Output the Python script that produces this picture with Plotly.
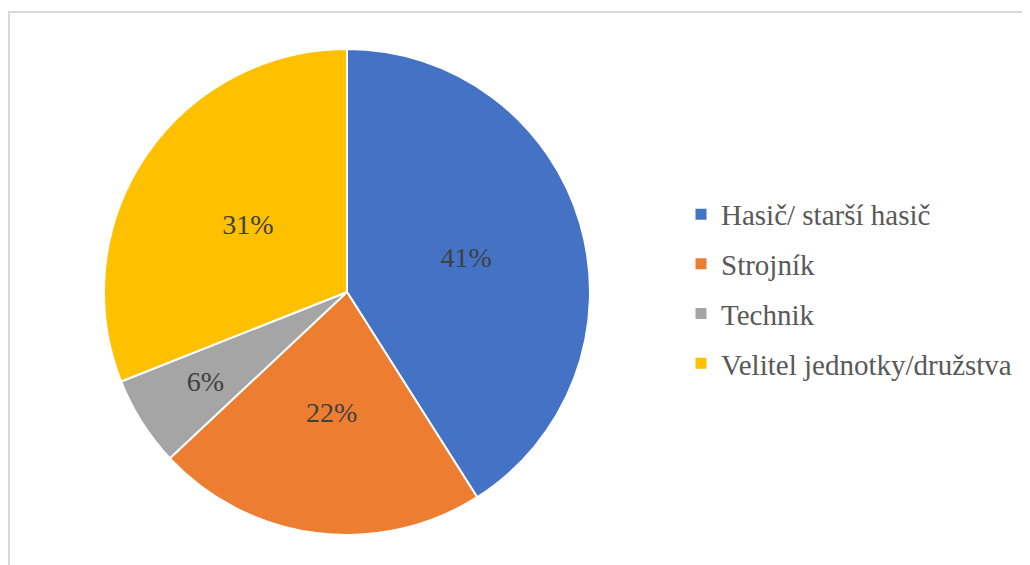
import plotly.graph_objects as go

labels = ["Hasič/ starší hasič", "Strojník", "Technik", "Velitel jednotky/družstva"]
values = [41, 22, 6, 31]
colors = ["#4472C4", "#ED7D31", "#A5A5A5", "#FFC000"]

W, H = 1030, 565
OFF = 8  # page body margin
cx, cy, r = 347 - OFF, 292 - OFF, 243
FONT = "Liberation Serif"


def dom(rad):
    return dict(x=[(cx - rad) / W, (cx + rad) / W], y=[(H - cy - rad) / H, (H - cy + rad) / H])


pct = "%{percent:.0%}"
fig = go.Figure()
fig.add_trace(go.Pie(
    labels=labels, values=values, sort=False, direction="clockwise", rotation=0,
    marker=dict(colors=colors, line=dict(color="white", width=2)),
    texttemplate=[pct, "", "", ""], textposition="inside",
    insidetextorientation="horizontal",
    textfont=dict(family=FONT, size=28, color="#404040"),
    showlegend=False, hoverinfo="label+percent", domain=dom(r),
))
fig.add_trace(go.Pie(
    labels=labels, values=values, sort=False, direction="clockwise", rotation=0,
    marker=dict(colors=["rgba(0,0,0,0)"] * 4, line=dict(width=0)),
    texttemplate=["", pct, pct, ""], textposition="inside",
    insidetextorientation="horizontal",
    textfont=dict(family=FONT, size=28, color="#404040"),
    showlegend=False, hoverinfo="skip", domain=dom(0.82 * r),
))
fig.add_trace(go.Pie(
    labels=labels, values=values, sort=False, direction="clockwise", rotation=0,
    marker=dict(colors=["rgba(0,0,0,0)"] * 4, line=dict(width=0)),
    texttemplate=["", "", "", pct], textposition="inside",
    insidetextorientation="horizontal",
    textfont=dict(family=FONT, size=28, color="#404040"),
    showlegend=False, hoverinfo="skip", domain=dom(0.9 * r),
))
for lab, col in zip(labels, colors):
    fig.add_trace(go.Scatter(
        x=[None], y=[None], mode="markers", name=lab, legendgroup=lab,
        marker=dict(symbol="square", size=11, color=col), showlegend=True,
    ))

fig.update_layout(
    width=W, height=H, margin=dict(l=0, r=0, t=0, b=0, autoexpand=False),
    paper_bgcolor="white", plot_bgcolor="white",
    xaxis=dict(visible=False), yaxis=dict(visible=False),
    legend=dict(x=0.6534, y=0.68, xanchor="left", yanchor="top",
                font=dict(family=FONT, size=29, color="#595959"),
                tracegroupgap=9, itemwidth=30, bgcolor="rgba(0,0,0,0)"),
    shapes=[dict(type="rect", xref="paper", yref="paper",
                 x0=1 / W, y0=-0.1, x1=1.1, y1=1 - 4 / H,
                 line=dict(color="#D9D9D9", width=2), layer="below")],
)
fig.write_html("out.html")
